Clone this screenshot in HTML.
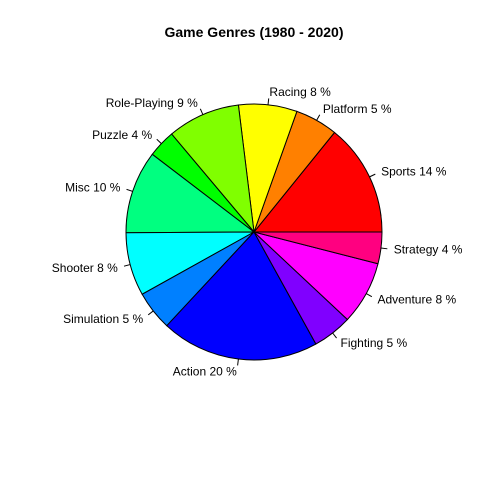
<!DOCTYPE html>
<html><head><meta charset="utf-8"><style>
body{margin:0;background:#fff}
svg{display:block;font-family:"Liberation Sans",Arial,sans-serif}
</style></head><body>
<svg id="chart" width="480" height="480" viewBox="0 0 480 480">
<rect width="480" height="480" fill="#fff"/>
<text x="254" y="37" text-anchor="middle" font-weight="bold" font-size="14">Game Genres (1980 - 2020)</text>
<g id="slices"></g><g id="labels"></g>
</svg>
<script>
const categories = ["Sports","Platform","Racing","Role-Playing","Puzzle","Misc","Shooter","Simulation","Action","Fighting","Adventure","Strategy"];
const values = [14.2,5.4,7.4,9.2,3.5,10.5,8,5,20,5,8,4];
const pctLabels = [14,5,8,9,4,10,8,5,20,5,8,4];
const colors = ["#FF0000","#FF8000","#FFFF00","#80FF00","#00FF00","#00FF80","#00FFFF","#0080FF","#0000FF","#8000FF","#FF00FF","#FF0080"];
const cx=254, cy=232, r=128;
const NS="http://www.w3.org/2000/svg";
const total=values.reduce((a,b)=>a+b,0);
const gs=document.getElementById('slices'), gl=document.getElementById('labels');
function pt(a,k){return [cx+k*r*Math.cos(a), cy-k*r*Math.sin(a)];}
let acc=0;
values.forEach((v,i)=>{
  const a0=acc/total*2*Math.PI; acc+=v; const a1=acc/total*2*Math.PI;
  const p0=pt(a0,1), p1=pt(a1,1);
  const large=(a1-a0)>Math.PI?1:0;
  const path=document.createElementNS(NS,'path');
  path.setAttribute('d',`M${cx},${cy} L${p0[0]},${p0[1]} A${r},${r} 0 ${large} 0 ${p1[0]},${p1[1]} Z`);
  path.setAttribute('fill',colors[i]);path.setAttribute('stroke','#000');path.setAttribute('stroke-width','1');
  
  
  gs.appendChild(path);
  const am=(a0+a1)/2;
  const t0=pt(am,1), t1=pt(am,1.05), tp=pt(am,1.1);
  const ln=document.createElementNS(NS,'line');
  ln.setAttribute('x1',t0[0]);ln.setAttribute('y1',t0[1]);ln.setAttribute('x2',t1[0]);ln.setAttribute('y2',t1[1]);
  ln.setAttribute('stroke','#000');
  
  
  gl.appendChild(ln);
  const tx=document.createElementNS(NS,'text');
  tx.setAttribute('x',tp[0]);tx.setAttribute('y',tp[1]+4);
  tx.setAttribute('font-size','12');
  tx.setAttribute('text-anchor',Math.cos(am)>=0?'start':'end');
  tx.textContent=categories[i]+' '+pctLabels[i]+' %';
  
  
  gl.appendChild(tx);
});
</script>
</body></html>
